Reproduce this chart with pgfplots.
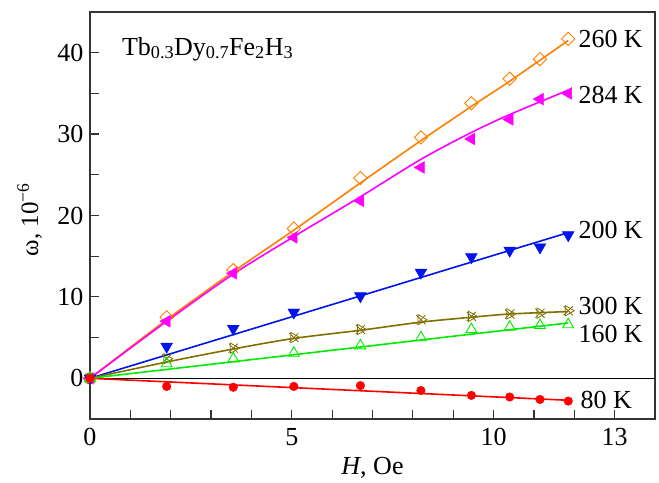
\documentclass[border=0pt]{standalone}
\usepackage{pgfplots}
\pgfplotsset{compat=1.18}
\usepackage{fontspec}
\setmainfont{Liberation Serif}

\definecolor{corange}{RGB}{255,128,0}
\definecolor{cmagenta}{RGB}{255,0,255}
\definecolor{cblue}{RGB}{0,20,235}
\definecolor{colive}{RGB}{128,112,0}
\definecolor{cgreen}{RGB}{0,235,0}
\definecolor{cred}{RGB}{255,0,0}

\begin{document}
\begin{tikzpicture}
\begin{axis}[
    name=ax,
    scale only axis, width=565pt, height=407pt,
    xmin=0, xmax=14, ymin=-5, ymax=45,
    axis line style={line width=1.6pt, black!80},
    tick style={line width=1.2pt, black!80},
    tick align=inside, xtick pos=bottom, ytick pos=left,
    major tick length=9pt,
    xtick={0,...,13}, xticklabels={0,,,,,5,,,,,10,,,13},
    ytick={0,5,...,40}, yticklabels={0,,10,,20,,30,,40},
    ticklabel style={font=\fontsize{26}{28}\selectfont},
    xticklabel style={yshift=-6pt},
    yticklabel style={xshift=-3pt},
    /pgf/number format/assume math mode=true,
    xlabel={\textit{H}, Oe}, ylabel={ω, 10\textsuperscript{−6}},
    xlabel style={font=\fontsize{26}{28}\selectfont, at={(rel axis cs:0.5,0)}, anchor=base, yshift=-56pt},
    ylabel style={font=\fontsize{25}{27}\selectfont, at={(axis description cs:-0.092,0.49)}, anchor=base},
    clip=false,
]
% zero line
\addplot[black, line width=1pt] coordinates {(0,0) (14,0)};

% fitted curves
\addplot[corange, line width=1.6pt, smooth] coordinates {
  (0,0) (1.9,7.2) (3.55,13.1) (5.05,18.2) (6.7,24.0) (8.2,29.2) (9.45,33.4) (10.4,36.5) (11.85,41.5)};
\addplot[cmagenta, line width=1.6pt, smooth] coordinates {
  (0,0) (1.9,7.0) (3.55,12.8) (5.05,17.4) (6.7,22.3) (8.2,26.9) (9.45,30.2) (10.4,32.4) (11.85,35.4)};
\addplot[cblue, line width=1.6pt] coordinates {(0,0) (11.85,17.9)};
\addplot[colive, line width=1.6pt, smooth] coordinates {
  (0,0) (1.9,2.0) (3.55,3.6) (5.05,4.9) (6.7,5.9) (8.2,6.9) (9.45,7.5) (10.4,7.9) (11.85,8.2)};
\addplot[cgreen, line width=1.6pt] coordinates {(0,0) (11.85,6.8)};
\addplot[cred, line width=1.6pt] coordinates {(0,0) (11.85,-2.7)};

% data points
\addplot[only marks, corange, mark=square, mark size=4.7pt, mark options={rotate=45, fill=white, line width=0.9pt}]
  coordinates {(0,0) (1.9,7.5) (3.55,13.3) (5.05,18.4) (6.7,24.6) (8.2,29.6) (9.45,33.8) (10.4,36.8) (11.15,39.2) (11.85,41.7)};
\addplot[only marks, cmagenta, mark=triangle*, mark size=6.8pt, mark options={rotate=90}]
  coordinates {(0,0) (1.9,7.0) (3.55,12.9) (5.05,17.3) (6.7,21.8) (8.2,25.9) (9.45,29.4) (10.4,31.8) (11.15,34.3) (11.85,35.0)};
\addplot[only marks, cblue, mark=triangle*, mark size=6.8pt, mark options={rotate=180}]
  coordinates {(0,0) (1.9,3.9) (3.55,6.1) (5.05,8.1) (6.7,10.1) (8.2,13.0) (9.45,14.9) (10.4,15.7) (11.15,16.1) (11.85,17.6)};
\addplot[only marks, colive, mark=x, mark size=6.5pt, mark options={line width=0.8pt}]
  coordinates {(0,0) (1.9,2.4) (3.55,3.7) (5.05,5.0) (6.7,6.0) (8.2,7.2) (9.45,7.6) (10.4,7.9) (11.15,8.0) (11.85,8.3)};
\addplot[only marks, colive, mark=triangle, mark size=6pt, mark options={rotate=-90, line width=0.8pt}]
  coordinates {(0,0) (1.9,2.4) (3.55,3.7) (5.05,5.0) (6.7,6.0) (8.2,7.2) (9.45,7.6) (10.4,7.9) (11.15,8.0) (11.85,8.3)};
\addplot[only marks, cgreen, mark=triangle, mark size=6.3pt, mark options={fill=white, line width=0.9pt}]
  coordinates {(0,0) (1.9,1.8) (3.55,2.4) (5.05,3.1) (6.7,4.0) (8.2,5.0) (9.45,6.0) (10.4,6.3) (11.15,6.5) (11.85,6.6)};
\addplot[only marks, cred, mark=*, mark size=4.3pt]
  coordinates {(0,0) (1.9,-1.0) (3.55,-1.1) (5.05,-1.0) (6.7,-0.9) (8.2,-1.5) (9.45,-2.1) (10.4,-2.3) (11.15,-2.6) (11.85,-2.8)};

% curve labels
\begin{scope}[every node/.style={anchor=west, font=\fontsize{26}{28}\selectfont, inner sep=0pt}]
\node at (axis cs:12.1,41.7) {260 K};
\node at (axis cs:12.1,34.8) {284 K};
\node at (axis cs:12.1,18.2) {200 K};
\node at (axis cs:12.1,8.9) {300 K};
\node at (axis cs:12.1,5.5) {160 K};
\node at (axis cs:12.15,-2.7) {80 K};
\end{scope}
\node[anchor=base west, inner sep=0pt, font=\fontsize{26}{28}\selectfont] at (axis cs:0.79,39.7)
  {Tb\textsubscript{0.3}Dy\textsubscript{0.7}Fe\textsubscript{2}H\textsubscript{3}};
\end{axis}
% page margins as in the reference
\path ([xshift=-90pt,yshift=-62pt]ax.south west) rectangle ([xshift=4pt,yshift=12pt]ax.north east);
\end{tikzpicture}
\end{document}
